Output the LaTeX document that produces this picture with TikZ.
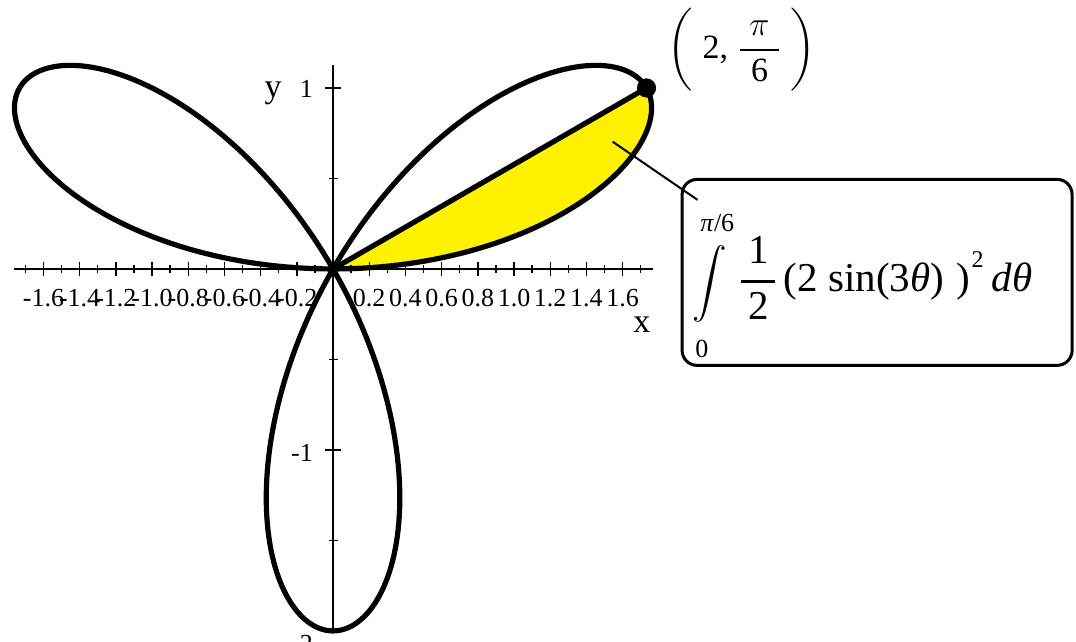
\IfFileExists{fix-cm.sty}{\RequirePackage{fix-cm}}{}
\documentclass[tikz,border=0pt]{standalone}
\usepackage{exscale}
\usepackage{fontspec}
\setmainfont{Liberation Serif}
\usetikzlibrary{calc}
\definecolor{roseyellow}{RGB}{255,242,0}
\newcommand{\limfs}{\fontsize{13}{13}\selectfont}
\newcommand{\supfs}{\fontsize{12}{12}\selectfont}
\begin{document}
\begin{tikzpicture}[x=90.5pt,y=90.5pt,
  axisline/.style={line width=0.7pt},
  curveline/.style={line width=2.6pt,line join=round,line cap=round},
  ticklabel/.style={font=\fontsize{13}{13}\selectfont,inner sep=0pt},
  axislabel/.style={font=\fontsize{17}{17}\selectfont,inner sep=0pt},
  formulabox/.style={draw,line width=1.5pt,rounded corners=7.5pt,minimum width=195pt,minimum height=93pt,inner sep=0pt},
  leader/.style={line width=1pt}]
\useasboundingbox (-1.840,-2.061) rectangle (4.105,1.486);
\coordinate (O) at (0,0);
\coordinate (tip) at ({sqrt(3)},1);
% shaded sector
\fill[roseyellow] (O) -- plot[domain=0:30,samples=90] ({2*sin(3*\x)*cos(\x)},{2*sin(3*\x)*sin(\x)}) -- cycle;
% axes
\coordinate (xmin) at (-1.765,0);
\coordinate (xmax) at (1.77,0);
\coordinate (ymin) at (0,-2);
\coordinate (ymax) at (0,1.127);
\draw[axisline] (xmin) -- (xmax);
\draw[axisline] (ymin) -- (ymax);
\foreach \i in {-17,-15,...,17} \draw[axisline] (\i/10,-0.022) -- (\i/10,0.022);
\foreach \i in {-16,-14,...,-2} \draw[axisline] (\i/10,-0.041) -- (\i/10,0.041);
\foreach \i in {2,4,...,16} \draw[axisline] (\i/10,-0.041) -- (\i/10,0.041);
\foreach \v [count=\k] in {-1.6,-1.4,-1.2,-1.0,-0.8,-0.6,-0.4,-0.2,0.2,0.4,0.6,0.8,1.0,1.2,1.4,1.6}
  \node[ticklabel] (xt\k) at (\v,-0.16) {\v};
\foreach \v in {1,-1} \draw[axisline] (-0.044,\v) -- (0.044,\v);
\foreach \v in {0.5,-0.5,-1.5} \draw[axisline] (-0.025,\v) -- (0.025,\v);
\node[ticklabel,anchor=east] (yt1) at (-0.109,0.994) {1};
\node[ticklabel,anchor=east] (ytm1) at (-0.109,-1.017) {-1};
\node[ticklabel,anchor=east] (ytm2) at (-0.109,-2.07) {-2};
\node[axislabel] (ylab) at (-0.331,0.972) {y};
\node[axislabel] (xlab) at (1.706,-0.309) {x};
% rose curve
\draw[curveline] plot[domain=0:180,samples=361] ({2*sin(3*\x)*cos(\x)},{2*sin(3*\x)*sin(\x)});
\draw[curveline] (O) -- (tip);
\fill (tip) circle (4.8pt);
% point label
\node[font=\fontsize{17}{17}\selectfont,inner sep=0pt] (ptlabel) at (2.260,1.210)
  {$\displaystyle\biggl(\;\mbox{2,}\;{\;\pi\;\above 1.3pt\mbox{6}}\;\biggr)$};
% formula box
\node[formulabox] (box) at (3.006,-0.019) {};
\node[font=\fontsize{20.5}{20.5}\selectfont,inner sep=0pt,anchor=west] (formula) at (1.983,-0.094)
  {{\fontsize{16.5}{16.5}\selectfont$\displaystyle\int\limits_{\mbox{\rule{0pt}{15pt}\limfs 0}}^{\mbox{\limfs\textit{π}/6\rule[-5pt]{0pt}{0pt}}}$}\hspace{6pt}$\displaystyle{\mbox{\,1\,}\above 1.3pt\mbox{\,2\,}}$\hspace{3pt}(2 sin(3\textit{θ})\hspace{6pt})\hspace{1pt}\raisebox{12pt}{\supfs 2}\hspace{4pt}\textit{dθ}};
% leader line
\coordinate (lead1) at (1.545,0.703);
\coordinate (lead2) at ($(box.north west)+(8.5pt,-11pt)$);
\draw[leader] (lead1) -- (lead2);
\end{tikzpicture}
\end{document}
